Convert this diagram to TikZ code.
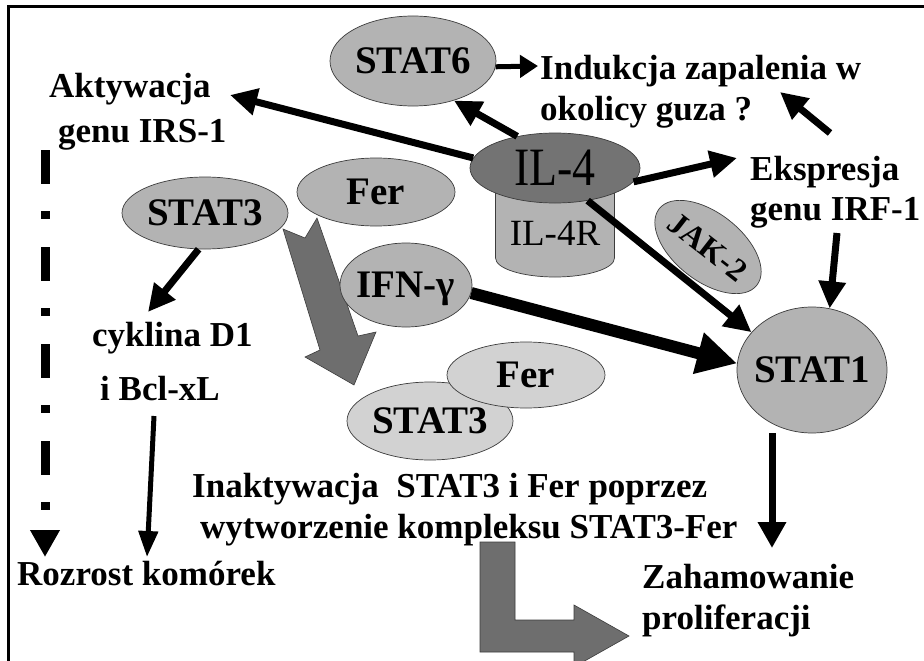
\documentclass[tikz,border=0pt]{standalone}
\usepackage{fontspec}
\usepackage{graphicx}
\setmainfont{Liberation Serif}
\usetikzlibrary{shapes.geometric,arrows.meta}
\definecolor{midgray}{HTML}{B3B3B3}
\definecolor{darkfill}{HTML}{737373}
\definecolor{lightfill}{HTML}{D2D2D2}
\definecolor{arrowgray}{HTML}{6E6E6E}
\definecolor{edgegray}{HTML}{3C3C3C}
\begin{document}
\begin{tikzpicture}[x=1pt,y=-1pt,
 blob/.style={ellipse,draw=edgegray,line width=0.7pt,fill=midgray,inner sep=0pt,font=\fontsize{39}{39}\selectfont\bfseries},
 lbl/.style={anchor=base west,inner sep=0pt,font=\fontsize{35}{40}\selectfont\bfseries},
 conn/.style={line width=7pt,-{Triangle[length=27pt,width=26pt]}},
 bigshape/.style={fill=arrowgray,draw=edgegray,line width=0.6pt},
]
\useasboundingbox (0,0) rectangle (924,661);
\clip (0,0) rectangle (924,661);
\fill[white] (0,0) rectangle (924,661);
% frame
\draw[line width=3pt] (8.5,661) -- (8.5,6.5) -- (924,6.5);
% big grey arrow STAT3/Fer -> complex
\filldraw[bigshape] (283,229) -- (305,238) -- (317,218) -- (358,336) -- (376,332) -- (354,385) -- (305,357) -- (320,350) -- cycle;
% IL-4R cylinder
\filldraw[fill=midgray,draw=edgegray,line width=0.7pt] (555,258) ellipse[x radius=59.5, y radius=19];
\fill[midgray] (495.5,175) rectangle (614.5,258);
\draw[edgegray,line width=0.7pt] (495.5,175) -- (495.5,258) (614.5,175) -- (614.5,258);
\node[font=\fontsize{37}{37}\selectfont,inner sep=0pt] (il4r) at (555,233) {IL-4R};
% ellipses
\node[blob,minimum width=166pt,minimum height=90pt] (stat6) at (413,61) {\makebox[0pt]{STAT6}};
\node[blob,minimum width=166pt,minimum height=72pt] (stat3a) at (205,213) {\makebox[0pt]{STAT3}};
\node[blob,minimum width=158pt,minimum height=68pt] (fer1) at (376,192) {\makebox[0pt]{Fer}};
\node[blob,minimum width=132pt,minimum height=84pt,text depth=0pt] (ifn) at (406,285) {\makebox[0pt]{IFN-γ}};
\node[blob,fill=darkfill,font=\fontsize{54}{54}\selectfont,minimum width=170pt,minimum height=70pt] (il4) at (555,168) {\makebox[0pt]{\scalebox{0.85}[1]{IL-4}}};
\node[blob,minimum width=124pt,minimum height=68pt,rotate=-38,font=\fontsize{32}{32}\selectfont\bfseries] (jak) at (708,247) {\makebox[0pt]{JAK-2}};
\node[blob,minimum width=150pt,minimum height=126pt] (stat1) at (812,370) {\makebox[0pt]{STAT1}};
\node[blob,fill=lightfill,minimum width=166pt,minimum height=78pt] (stat3b) at (430,421) {\makebox[0pt]{STAT3}};
\node[blob,fill=lightfill,minimum width=158pt,minimum height=66pt] (fer2) at (526,375) {\makebox[0pt]{Fer}};
% text labels
\node[lbl] (ind1) at (540,80) {Indukcja zapalenia w};
\node[lbl] (ind2) at (540,120) {okolicy guza ?};
\node[lbl] (akt1) at (49,98) {Aktywacja};
\node[lbl] (akt2) at (58,142) {genu IRS-1};
\node[lbl] (eks1) at (750,180) {Ekspresja};
\node[lbl] (eks2) at (750,220) {genu IRF-1};
\node[lbl] (cyk) at (92,346) {cyklina D1};
\node[lbl] (bcl) at (100,400) {i Bcl-xL};
\node[lbl] (ina1) at (192,497) {Inaktywacja~ STAT3 i Fer poprzez};
\node[lbl] (ina2) at (200,538) {wytworzenie kompleksu STAT3-Fer};
\node[lbl] (roz) at (17,585) {Rozrost komórek};
\node[lbl] (zah1) at (642,588) {Zahamowanie};
\node[lbl] (zah2) at (642,629) {proliferacji};
% connector end points
\coordinate (stat6tip) at (538,66);
\coordinate (aktTip) at (230,95);
\coordinate (eksTip) at (737,158);
\coordinate (eksUp) at (830,133);
\coordinate (indTip) at (780,92);
\coordinate (eksDown) at (837,233);
\coordinate (cykTip) at (148,312);
\coordinate (bclOut) at (154,416);
\coordinate (rozTip) at (147,557);
\coordinate (dashTop) at (45,150);
\coordinate (dashTip) at (45,557);
\coordinate (s1out) at (772,433);
\coordinate (zahTip) at (772,548);
% connectors
\draw[line width=5pt,-{Triangle[length=18pt,width=22pt]}] (stat6.-4) -- (stat6tip);
\draw[conn] (il4.173) -- (aktTip);
\draw[conn] (il4.140) -- (stat6.-44);
\draw[conn] (il4.-10) -- (eksTip);
\draw[conn] (eksUp) -- (indTip);
\draw[conn] (eksDown) -- (stat1.74);
\draw[conn] (il4.-45) -- (stat1.148);
\draw[line width=12pt,-{Triangle[length=40pt,width=40pt]}] (ifn.-7) -- (stat1.175);
\draw[conn] (stat3a.-100) -- (cykTip);
\draw[line width=5pt,-{Triangle[length=26pt,width=19pt]}] (bclOut) -- (rozTip);
\draw[line width=9pt,dash pattern=on 34pt off 27pt on 8pt off 28pt,-{Triangle[length=27pt,width=28pt]}] (dashTop) -- (dashTip);
\draw[line width=7pt,-{Triangle[length=26pt,width=27pt]}] (s1out) -- (zahTip);
% L-shaped grey arrow
\filldraw[bigshape] (480,542) -- (515,542) -- (515,620) -- (574,620) -- (574,605) -- (629,636) -- (574,667) -- (574,652) -- (480,652) -- cycle;
\end{tikzpicture}
\end{document}
